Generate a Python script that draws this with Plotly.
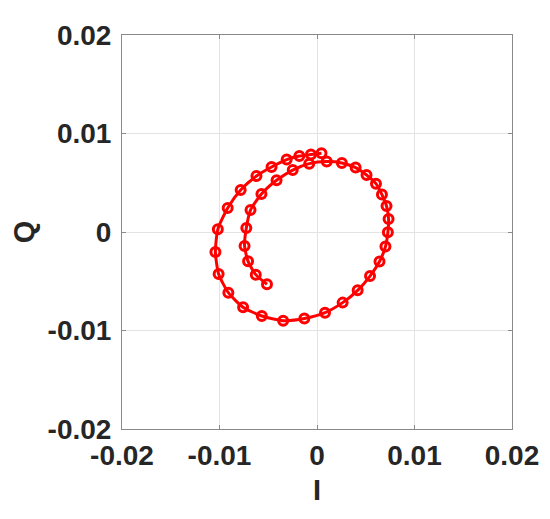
import plotly.graph_objects as go

# Spiral I/Q samples (inner end -> outer end)
i_vals = [-0.00513, -0.00628, -0.00707, -0.00743, -0.00725, -0.00682, -0.00570, -0.00415,
          -0.00249, -0.00080, 0.00100, 0.00255, 0.00396, 0.00508, 0.00605, 0.00666,
          0.00713, 0.00734, 0.00727, 0.00702, 0.00641, 0.00544, 0.00417, 0.00263,
          0.00082, -0.00130, -0.00347, -0.00566, -0.00758, -0.00909, -0.01009, -0.01042,
          -0.01017, -0.00916, -0.00783, -0.00621, -0.00466, -0.00311, -0.00181, -0.00062,
          0.00046]
q_vals = [-0.00531, -0.00433, -0.00298, -0.00142, 0.00041, 0.00223, 0.00386, 0.00525,
          0.00629, 0.00694, 0.00715, 0.00701, 0.00654, 0.00579, 0.00491, 0.00380,
          0.00264, 0.00132, -0.00003, -0.00148, -0.00300, -0.00447, -0.00592, -0.00717,
          -0.00819, -0.00879, -0.00900, -0.00853, -0.00764, -0.00616, -0.00426, -0.00203,
          0.00027, 0.00244, 0.00426, 0.00569, 0.00660, 0.00735, 0.00772, 0.00786,
          0.00799]

tick_vals = [-0.02, -0.01, 0, 0.01, 0.02]
tick_text = ["-0.02", "-0.01", "0", "0.01", "0.02"]

FONT = "Liberation Sans, Arial, sans-serif"
tickfont = dict(family=FONT, size=28, color="#262626", weight="bold")
titlefont = dict(family=FONT, size=29, color="#262626", weight="bold")

fig = go.Figure()
fig.add_trace(go.Scatter(
    x=i_vals, y=q_vals, mode="lines+markers",
    line=dict(color="#ff0000", width=3, shape="spline", smoothing=0.6),
    marker=dict(symbol="circle-open", size=9, color="#ff0000",
                line=dict(color="#ff0000", width=3)),
    showlegend=False,
))

axis_common = dict(
    range=[-0.02, 0.02], tickvals=tick_vals, ticktext=tick_text,
    showgrid=True, gridcolor="#e3e3e3", gridwidth=1,
    zeroline=False, showline=True, linecolor="#8a8a8a", linewidth=1,
    mirror="ticks", ticks="inside", ticklen=4, tickcolor="#8a8a8a",
    tickfont=tickfont,
)

fig.update_xaxes(**axis_common, title=dict(text="I", font=titlefont, standoff=10),
                 ticklabelstandoff=1)
fig.update_yaxes(**axis_common, title=dict(text="Q", font=titlefont, standoff=11),
                 ticklabelstandoff=4)

# page body adds an 8px offset, so margins are shifted to compensate
fig.update_layout(
    width=550, height=519,
    margin=dict(l=114, r=46, t=27, b=98, autoexpand=False),
    plot_bgcolor="white", paper_bgcolor="white",
)

fig.write_html("out.html")
